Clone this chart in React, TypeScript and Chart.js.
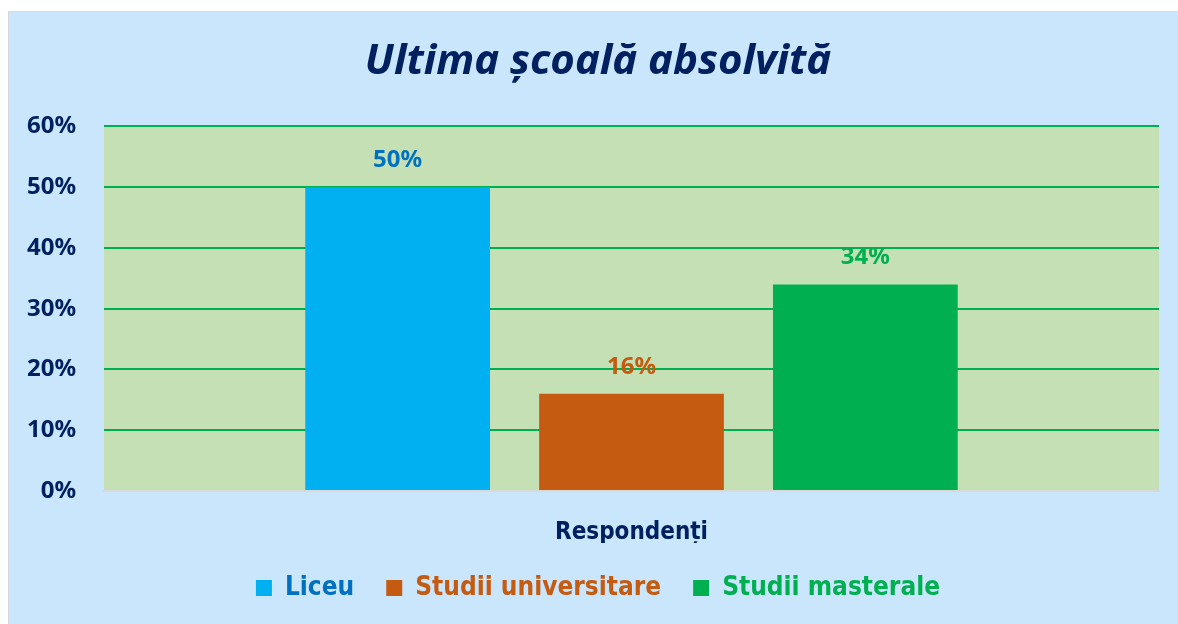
import React, { useEffect, useRef } from "react";
import { Chart, registerables } from "chart.js";

Chart.register(...registerables);

const categories = ["Respondenți"];
const seriesNames = ["Liceu", "Studii universitare", "Studii masterale"];
const seriesValues = [[50], [16], [34]];
const barColors = ["#00B0F0", "#C55A11", "#00B050"];
const labelColors = ["#0070C0", "#C55A11", "#00B050"];
const yTicks = [0, 10, 20, 30, 40, 50, 60];
const titleText = "Ultima școală absolvită";

const NAVY = "#002060";

const plotBg = {
  id: "plotBg",
  beforeDraw(chart: any) {
    const { ctx, chartArea } = chart;
    ctx.save();
    ctx.fillStyle = "#C5E0B4";
    ctx.fillRect(chartArea.left, chartArea.top, chartArea.right - chartArea.left, chartArea.bottom - chartArea.top);
    ctx.restore();
  },
};

const dataLabels = {
  id: "dataLabels",
  afterDatasetsDraw(chart: any) {
    const { ctx } = chart;
    ctx.save();
    ctx.font = "bold 24px 'Noto Sans', sans-serif";
    ctx.textAlign = "center";
    ctx.textBaseline = "middle";
    chart.data.datasets.forEach((ds: any, i: number) => {
      const meta = chart.getDatasetMeta(i);
      meta.data.forEach((bar: any, j: number) => {
        ctx.fillStyle = labelColors[i];
        ctx.fillText(ds.data[j] + "%", bar.x, bar.y - 27);
      });
    });
    ctx.restore();
  },
};

export default function App() {
  const ref = useRef<HTMLCanvasElement>(null);
  useEffect(() => {
    const chart = new Chart(ref.current!, {
      type: "bar",
      data: {
        labels: categories,
        datasets: seriesNames.map((name, i) => ({
          label: name,
          data: seriesValues[i],
          backgroundColor: barColors[i],
          borderWidth: 0,
          categoryPercentage: 0.665,
          barPercentage: 0.79,
        })),
      },
      options: {
        animation: false,
        responsive: false,
        maintainAspectRatio: false,
        layout: { padding: { left: 28, right: 28, top: 0, bottom: 13 } },
        scales: {
          x: {
            grid: { display: false, drawTicks: false },
            border: { display: true, color: "#D9D9D9", width: 2 },
            ticks: {
              color: NAVY,
              font: { family: "'DejaVu Sans Condensed', 'Noto Sans', sans-serif", size: 24, weight: "bold" },
              padding: 27,
            },
            afterFit: (s: any) => {
              s.height = 52;
            },
          },
          y: {
            min: 0,
            max: 60,
            afterBuildTicks: (s: any) => {
              s.ticks = yTicks.map((v) => ({ value: v }));
            },
            grid: {
              drawTicks: false,
              color: (c: any) => (c.tick && c.tick.value === 0 ? "rgba(0,0,0,0)" : "#00B050"),
              lineWidth: 2,
            },
            border: { display: false },
            ticks: {
              color: NAVY,
              font: { family: "'Noto Sans', sans-serif", size: 24, weight: "bold" },
              mirror: true,
              crossAlign: "far",
              padding: -77,
              callback: (v: any) => v + "%",
            },
            afterFit: (s: any) => {
              s.width = 67;
            },
          },
        },
        plugins: {
          title: {
            display: true,
            text: titleText,
            color: NAVY,
            font: { family: "'Noto Sans', sans-serif", size: 42, weight: "bold", style: "italic" },
            padding: { top: 25, bottom: 39 },
          },
          legend: {
            position: "bottom",
            labels: {
              boxWidth: 16,
              boxHeight: 16,
              padding: 32,
              font: { family: "'DejaVu Sans Condensed', 'Noto Sans', sans-serif", size: 26, weight: "bold" },
              generateLabels: (ch: any) =>
                ch.data.datasets.map((ds: any, i: number) => ({
                  text: ds.label,
                  fillStyle: barColors[i],
                  strokeStyle: barColors[i],
                  lineWidth: 0,
                  fontColor: labelColors[i],
                  hidden: false,
                  datasetIndex: i,
                })),
            },
          },
          tooltip: { enabled: false },
        },
      },
      plugins: [plotBg, dataLabels],
    });
    return () => chart.destroy();
  }, []);

  return (
    <div
      style={{
        position: "fixed",
        left: 8,
        top: 11,
        width: 1170,
        height: 613,
        overflow: "hidden",
        background: "#C9E6FD",
        borderTop: "1px solid #D9D9D9",
        borderLeft: "1px solid #D9D9D9",
        boxSizing: "border-box",
      }}
    >
      <canvas ref={ref} width={1178} height={612} style={{ display: "block" }} />
    </div>
  );
}
